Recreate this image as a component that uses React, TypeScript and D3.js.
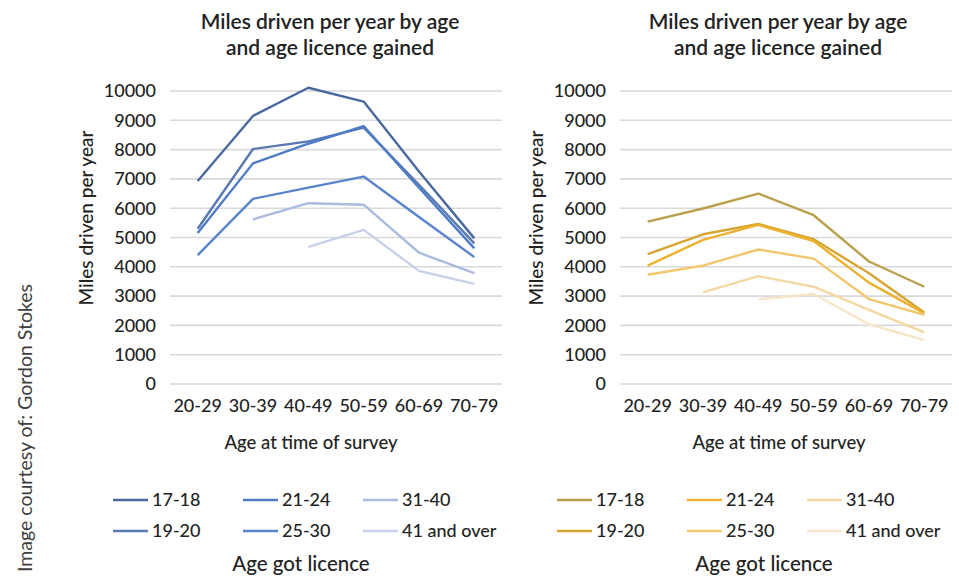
import React from "react";
import * as d3 from "d3";

// Survey age bands (x axis)
const ageBands = ["20-29", "30-39", "40-49", "50-59", "60-69", "70-79"];
// Age at which the licence was obtained (series)
const licenceAges = ["17-18", "19-20", "21-24", "25-30", "31-40", "41 and over"];
const yTicks = [0, 1000, 2000, 3000, 4000, 5000, 6000, 7000, 8000, 9000, 10000];

// Left panel – miles per year
const left1718 = [6930, 9150, 10110, 9640, 7250, 4970];
const left1920 = [5300, 8020, 8280, 8750, 6800, 4800];
const left2124 = [5150, 7530, 8200, 8800, 6700, 4630];
const left2530 = [4400, 6320, 6700, 7080, 5700, 4330];
const left3140 = [null, 5620, 6170, 6120, 4480, 3780];
const left41 = [null, null, 4680, 5260, 3860, 3420];

// Right panel – miles per year
const right1718 = [5540, 5990, 6500, 5760, 4180, 3320];
const right1920 = [4430, 5110, 5460, 4940, 3780, 2440];
const right2124 = [4040, 4920, 5430, 4880, 3460, 2410];
const right2530 = [3730, 4040, 4590, 4280, 2900, 2360];
const right3140 = [null, 3130, 3680, 3320, 2530, 1760];
const right41 = [null, null, 2890, 3070, 2040, 1500];

const blues = ["#4a6a9f", "#5a78b2", "#4f7cc6", "#5a84cc", "#abbbdf", "#c7d1ea"];
const golds = ["#b9a04c", "#d6a532", "#ecb12f", "#f2c66a", "#f4d8a2", "#f6e5c8"];

const FONT = "Lato, 'Open Sans', sans-serif";
const TEXT = "#222222";

type Val = number | null;

interface PanelProps {
  x0: number;
  series: Val[][];
  colors: string[];
  titleX: number;
  axisTitleX: number;
  yTitleX: number;
  legendXs: number[];
  legendTitleX: number;
}

function Panel({ x0, series, colors, titleX, axisTitleX, yTitleX, legendXs, legendTitleX }: PanelProps) {
  const width = 332;
  const x = d3.scalePoint<string>().domain(ageBands).range([x0, x0 + width]).padding(0.5);
  const y = d3.scaleLinear().domain([0, 10000]).range([384, 91]);
  const line = d3
    .line<Val>()
    .defined((d) => d !== null)
    .x((_, i) => x(ageBands[i]) as number)
    .y((d) => y(d as number));

  return (
    <g fontFamily={FONT} fill={TEXT} fontWeight={500}>
      <text x={titleX} y={29} textAnchor="middle" fontSize={21} fontWeight={600}>
        Miles driven per year by age
      </text>
      <text x={titleX} y={55} textAnchor="middle" fontSize={21} fontWeight={600}>
        and age licence gained
      </text>

      {yTicks.map((t) => (
        <g key={t}>
          <line x1={x0} x2={x0 + width} y1={y(t)} y2={y(t)} stroke="#d9d9d9" strokeWidth={1.6} />
          <text x={x0 - 14} y={y(t)} dy="0.35em" textAnchor="end" fontSize={18}>
            {t}
          </text>
        </g>
      ))}

      {ageBands.map((b) => (
        <text key={b} x={x(b)} y={412} textAnchor="middle" fontSize={18}>
          {b}
        </text>
      ))}

      <text
        transform={`translate(${yTitleX},${218}) rotate(-90)`}
        textAnchor="middle"
        fontSize={19}
        dy="0.35em"
      >
        Miles driven per year
      </text>
      <text x={axisTitleX} y={449} textAnchor="middle" fontSize={18.5}>
        Age at time of survey
      </text>

      {series.map((s, i) => (
        <path
          key={licenceAges[i]}
          d={line(s) || ""}
          fill="none"
          stroke={colors[i]}
          strokeWidth={2.4}
          strokeLinejoin="round"
        />
      ))}

      {licenceAges.map((label, i) => {
        const col = Math.floor(i / 2);
        const row = i % 2;
        const lx = legendXs[col];
        const ly = 500 + row * 31;
        return (
          <g key={label}>
            <line x1={lx} x2={lx + 35} y1={ly} y2={ly} stroke={colors[i]} strokeWidth={2.6} />
            <text x={lx + 39} y={ly} dy="0.35em" fontSize={18}>
              {label}
            </text>
          </g>
        );
      })}
      <text x={legendTitleX} y={571} textAnchor="middle" fontSize={20.5}>
        Age got licence
      </text>
    </g>
  );
}

export default function App() {
  return (
    <svg width={959} height={576} style={{ position: "absolute", left: 0, top: 0, background: "#fff" }}>
      <rect width={959} height={576} fill="#fff" />
      <Panel
        x0={170}
        series={[left1718, left1920, left2124, left2530, left3140, left41]}
        colors={blues}
        titleX={330}
        axisTitleX={311}
        yTitleX={86}
        legendXs={[113, 243, 363]}
        legendTitleX={301}
      />
      <Panel
        x0={620}
        series={[right1718, right1920, right2124, right2530, right3140, right41]}
        colors={golds}
        titleX={778}
        axisTitleX={779}
        yTitleX={536}
        legendXs={[557, 687, 807]}
        legendTitleX={764}
      />
      <text
        transform="translate(25,428) rotate(-90)"
        textAnchor="middle"
        dy="0.35em"
        fontFamily={FONT}
        fontSize={19.5}
        fill="#404040"
      >
        Image courtesy of: Gordon Stokes
      </text>
    </svg>
  );
}
